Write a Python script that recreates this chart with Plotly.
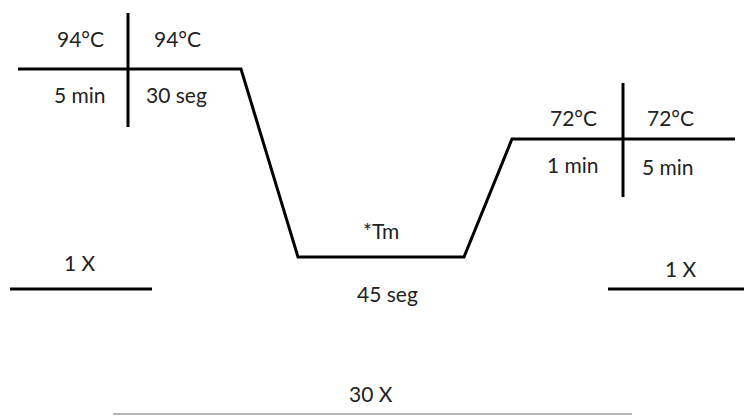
import plotly.graph_objects as go

# schematic coordinates (axis units = page grid, y grows downward)
profile_x = [18, 241, 298, 464, 512, 735]
profile_y = [69, 69, 257, 257, 139, 139]

divider_x = [128, 128, None, 623, 623]
divider_y = [13, 127, None, 83, 197]

cycle_x = [10, 152, None, 608, 744]
cycle_y = [289, 289, None, 289, 289]

repeat_x = [113, 632]
repeat_y = [414, 414]

labels = ["94°C", "94°C", "5 min", "30 seg", "*Tm", "45 seg",
          "72°C", "72°C", "1 min", "5 min", "1 X", "1 X", "30 X"]
label_x = [80, 177, 80, 176, 381, 387, 573, 670, 573, 668, 80, 681, 371]
label_y = [38, 38, 94, 94, 230, 293, 117, 117, 164, 166, 262, 268, 393]

fig = go.Figure()
fig.add_trace(go.Scatter(x=profile_x, y=profile_y, mode="lines",
                         line=dict(color="black", width=3)))
fig.add_trace(go.Scatter(x=divider_x, y=divider_y, mode="lines",
                         line=dict(color="black", width=3)))
fig.add_trace(go.Scatter(x=cycle_x, y=cycle_y, mode="lines",
                         line=dict(color="black", width=3)))
fig.add_trace(go.Scatter(x=repeat_x, y=repeat_y, mode="lines",
                         line=dict(color="#b4b4b4", width=2)))

for t, x, y in zip(labels, label_x, label_y):
    fig.add_annotation(x=x, y=y, text=t, showarrow=False,
                       xanchor="center", yanchor="middle",
                       font=dict(family="Lato", size=21, color="#222"))

fig.update_layout(
    width=744, height=416,
    margin=dict(l=0, r=0, t=0, b=0),
    showlegend=False,
    plot_bgcolor="white", paper_bgcolor="white",
    xaxis=dict(range=[0, 744], visible=False, fixedrange=True),
    yaxis=dict(range=[416, 0], visible=False, fixedrange=True),
)

# drop the default body margin so the figure sits at the page corner
fig.write_html("out.html", config={"displayModeBar": False},
               post_script="document.body.style.margin='0';")
